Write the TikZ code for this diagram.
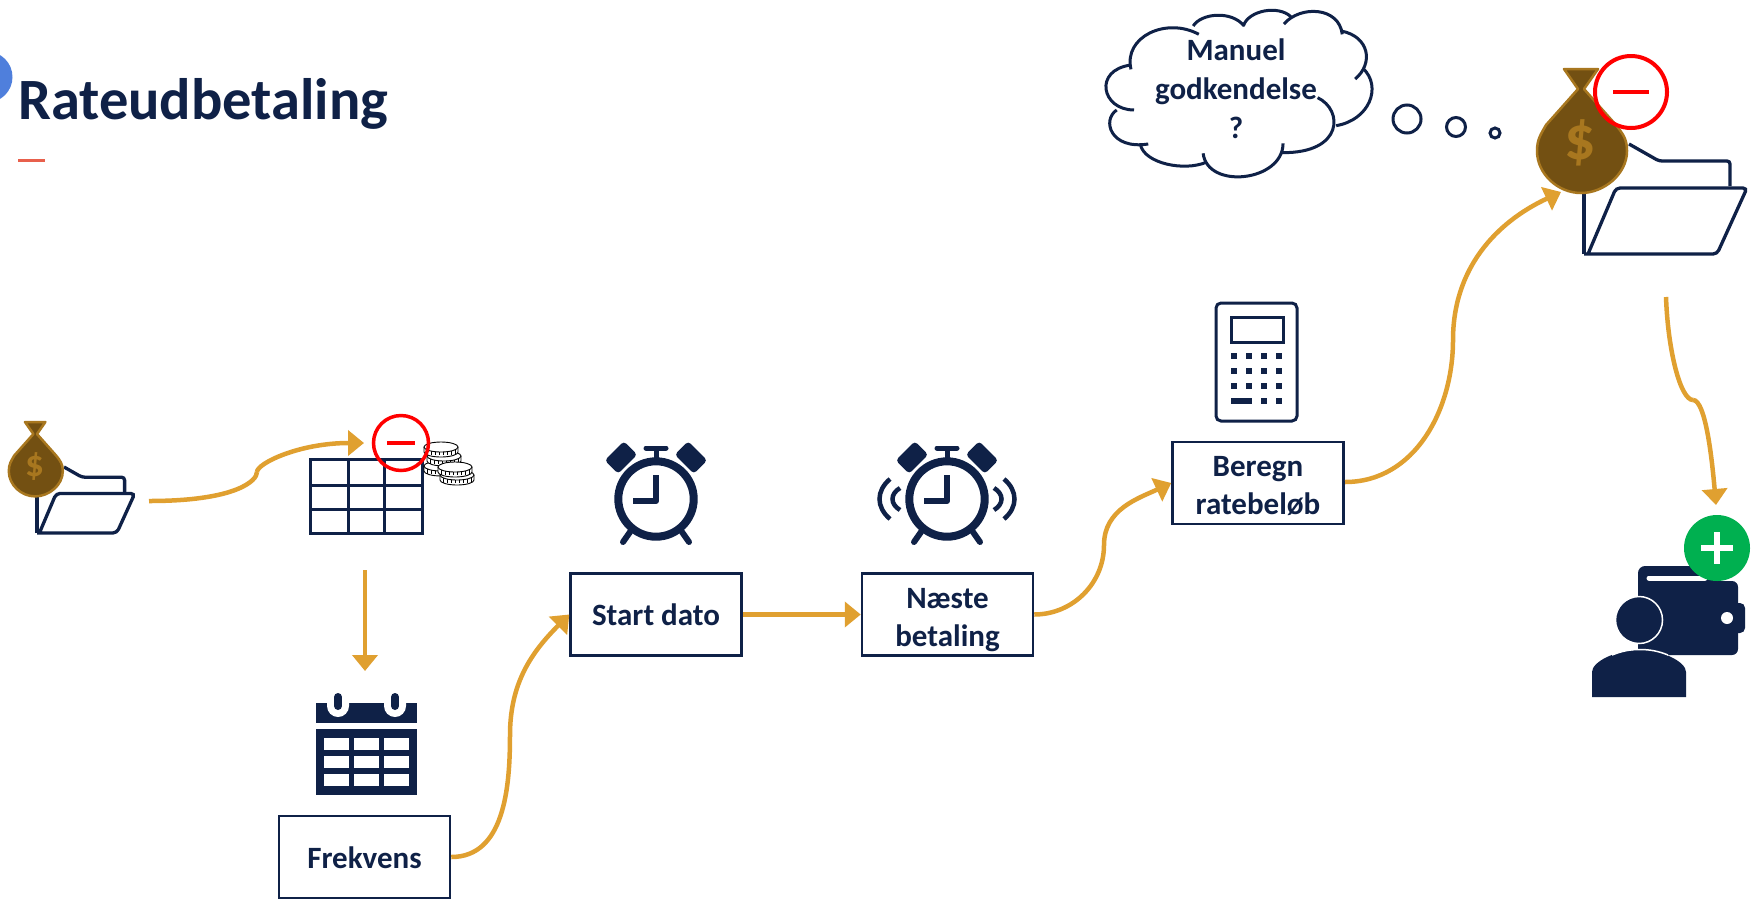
\documentclass[tikz,border=0pt]{standalone}
\usepackage{fontspec}
\setmainfont{Carlito}
\usepackage{xcolor}
\usetikzlibrary{arrows.meta,positioning,calc}
\definecolor{navy}{HTML}{0F2147}
\definecolor{flow}{HTML}{E0A030}
\definecolor{bagfill}{HTML}{735012}
\definecolor{bagline}{HTML}{A8771F}
\definecolor{minusred}{HTML}{FF0000}
\definecolor{plusgreen}{HTML}{00B050}
\tikzset{
    moneyfolder/.pic = {
        \draw[navy, line width = 3.3, line join = round] (0,0) -- (0,-60);
        \draw[navy, line width = 3.3, rounded corners = 3] (45,-110) -- (75,-93) -- (146,-93) -- (146,-68);
        \draw[navy, line width = 3.3, rounded corners = 4] (4,0) -- (32,-66) -- (163,-66) -- (133,0) -- (0,0);
        \draw[bagline, fill = bagfill, line width = 2.5, line join = round] (-20,-185) -- (14,-185) -- (0,-165) -- (32,-129) .. controls (39,-120) and (43,-115) .. (43,-103) .. controls (43,-80) and (20,-61) .. (-3,-61) .. controls (-26,-61) and (-47,-80) .. (-47,-103) .. controls (-47,-115) and (-43,-120) .. (-38,-129) -- (-6,-165) -- cycle;
        \node[transform shape, text = bagline, font = \fontsize{62}{62}\selectfont\bfseries] (-pounds) at (-4,-111) {\$};
    },
    alarmclock/.pic = {
        \draw[navy, line width = 8] (0,0) circle[radius = 37.7];
        \draw[navy, line width = 5, line cap = round] (-10,-51) -- (10,-51);
        \draw[navy, line width = 5] (0,-51) -- (0,-40);
        \draw[navy, line width = 6, line join = round] (0,-24) -- (0,2) -- (-23,2);
        \foreach \s in {-1,1} {
            \draw[navy, line width = 6, line cap = round] (\s*26,33) -- (\s*33,43);
            \begin{scope}[shift = {(\s*35,-41.5)}, rotate = -\s*45]
                \fill[navy, rounded corners = 3.5] (-13.5,-9.5) rectangle (13.5,9.5);
            \end{scope}
        }
    },
    coin/.pic = {
        \draw[black, fill = white, line width = .9] (-17,0) -- (-17,5) arc[start angle = 180, end angle = 0, x radius = 17, y radius = 5] -- (17,0);
        \foreach \i in {-14,-10,-6,-2,2,6,10,14} {\draw[black, line width = .8] (\i,3) -- (\i,8);}
        \draw[black, fill = white, line width = .9] (0,0) ellipse[x radius = 17, y radius = 5];
    },
    flowline/.style = {flow, line width = 4.5},
    flowarrow/.style = {flowline, -{Triangle[length = 16, width = 25]}},
    stepbox/.style = {draw = navy, fill = white, line width = 2.5, minimum width = 171, minimum height = 82, align = center, text = navy, font = \fontsize{31}{38}\selectfont\bfseries},
}
\begin{document}
\begin{tikzpicture}[x = 1pt, y = -1pt]
    \useasboundingbox (0,0) rectangle (1758,903);
    \fill[fill = white] (0,0) rectangle (1758,903);
    \fill[color = {rgb,255:red,79;green,127;blue,220}] (-13,77) circle[radius = 25.5];
    \node[anchor = base west, inner sep = 0, text = navy, font = \fontsize{58.5}{58.5}\selectfont\bfseries] (title) at (18,119) {Rateudbetaling};
    \fill[color = {rgb,255:red,232;green,96;blue,76}] (18,158.5) rectangle (45,161.5);
    \pic[scale = .6] at (37,533) {moneyfolder};
    \foreach \r in {485,509} {\draw[navy, line width = 3] (310,\r) -- (422,\r);}
    \foreach \c in {348,384} {\draw[navy, line width = 3] (\c,459) -- (\c,533);}
    \draw[navy, line width = 3] (310,459) rectangle (422,533);
    \pic at (441,466) {coin};
    \pic at (444,456) {coin};
    \pic at (441,447) {coin};
    \pic at (457,475) {coin};
    \pic at (455,467) {coin};
    \draw[minusred, line width = 3.5] (401,443) circle[radius = 27.5];
    \draw[minusred, line width = 3.5] (387,443) -- (415,443);
    \fill[navy] (316,703) rectangle (417,723);
    \fill[navy] (316,729) rectangle (417,795);
    \foreach \c in {338,395} {
        \fill[white] (\c-11,703) -- (\c+11,703) -- (\c+11,706) arc[start angle = 0, end angle = 180, radius = 11] -- cycle;
        \draw[navy, line width = 8, line cap = round] (\c,697) -- (\c,706);
    }
    \foreach \c in {324,354,384} {
        \foreach \r in {738,756,774} {\fill[white] (\c,\r) rectangle ++(25,12);}
    }
    \node[stepbox] (frekvens) at (364.5,857) {\rule{0pt}{23pt}Frekvens};
    \pic at (656,499) {alarmclock};
    \node[stepbox] (startdato) at (656,614.5) {\rule{0pt}{23pt}Start dato};
    \pic at (947,499) {alarmclock};
    \foreach \s in {-1,1} {
        \draw[navy, line width = 4.5] (947+\s*47,488) .. controls (947+\s*57,494) and (947+\s*57,504) .. (947+\s*47,510);
        \draw[navy, line width = 4.5] (947+\s*57,479) .. controls (947+\s*71,491) and (947+\s*71,507) .. (947+\s*57,519);
    }
    \node[stepbox] (naeste) at (947.5,614.5) {\rule{0pt}{31pt}Næste\\betaling};
    \draw[navy, line width = 3, rounded corners = 5] (1216,303) rectangle (1297,421);
    \draw[navy, line width = 3] (1231,317) rectangle (1283,342);
    \foreach \c in {1234,1249,1264,1279} {
        \foreach \r in {356,371,386} {\fill[navy] (\c-3,\r-3) rectangle ++(6,6);}
    }
    \fill[navy] (1231,398) rectangle (1252,404);
    \foreach \c in {1264,1279} {\fill[navy] (\c-3,398) rectangle ++(6,6);}
    \node[stepbox] (beregn) at (1258,483) {\rule{0pt}{27pt}Beregn\\ratebeløb};
    \begin{scope}[shift = {(1080,0)}, xscale = .432, yscale = .3333, navy, line width = 3]
        \draw (118,208) .. controls (100,110) and (200,50) .. (275,103);
        \draw (262,78) .. controls (280,40) and (350,30) .. (380,78);
        \draw (378,78) .. controls (390,30) and (460,15) .. (488,50);
        \draw (472,72) .. controls (510,15) and (600,20) .. (607,103);
        \draw (605,93) .. controls (670,110) and (680,190) .. (637,237);
        \draw (655,205) .. controls (700,260) and (670,360) .. (593,377);
        \draw (550,293) .. controls (610,330) and (610,460) .. (468,458);
        \draw (470,430) .. controls (470,545) and (295,570) .. (285,460);
        \draw (292,487) .. controls (240,515) and (150,490) .. (140,435);
        \draw (158,432) .. controls (70,450) and (50,360) .. (85,330);
        \draw (125,330) .. controls (50,330) and (30,210) .. (118,195);
    \end{scope}
    \node[align = center, text = navy, font = \fontsize{31}{39}\selectfont\bfseries] (tanke) at (1236,89) {Manuel\\godkendelse\\?};
    \draw[navy, line width = 3] (1407,119) circle[radius = 14];
    \draw[navy, line width = 3] (1456,127) circle[radius = 9.5];
    \draw[navy, line width = 3] (1495,133) circle[radius = 5];
    \pic at (1584,254) {moneyfolder};
    \draw[minusred, line width = 4] (1631,92) circle[radius = 36];
    \draw[minusred, line width = 4] (1613,92) -- (1649,92);
    \fill[navy, rounded corners = 7] (1638,566) rectangle (1715,610);
    \fill[navy, rounded corners = 5] (1720,603) rectangle (1745,633);
    \fill[navy, rounded corners = 6] (1638,581) rectangle (1738,655);
    \draw[white, line width = 5, line cap = round] (1649,578) -- (1705,578);
    \fill[white] (1727,618) circle[radius = 6];
    \fill[navy, draw = white, line width = 1.5] (1639,620) circle[radius = 23.5];
    \fill[navy] (1592,697) -- (1592,672) .. controls (1592,662) and (1615,650) .. (1639,650) .. controls (1663,650) and (1686,662) .. (1686,672) -- (1686,697) -- cycle;
    \draw[white, line width = 1.5] (1612,655) .. controls (1622,651) and (1630,649.5) .. (1639,649.5) .. controls (1650,649.5) and (1658,651) .. (1668,655);
    \fill[plusgreen] (1717,548) circle[radius = 33];
    \draw[white, line width = 6.5] (1701,548) -- (1733,548);
    \draw[white, line width = 6.5] (1717,532) -- (1717,564);
    \coordinate (mappeud) at (149,501);
    \coordinate (mappebue) at (257,472);
    \coordinate (tabelind) at (364,443);
    \coordinate (tabelud) at (365,570);
    \coordinate (kalenderind) at (365,671);
    \coordinate (frekvensbue) at (510,735);
    \coordinate (naestebue) at (1104,545);
    \coordinate (beregnud) at (1345,482);
    \coordinate (beregnbue) at (1453,340);
    \coordinate (posein) at (1561,192);
    \coordinate (poseud) at (1666,297);
    \coordinate (posebue) at (1693,400);
    \coordinate (tegnebogind) at (1716,505);
    \draw[flowline] (mappeud) to[out = 0, in = -90, out looseness = 2, in looseness = .2] (mappebue);
    \draw[flowarrow] (mappebue) to[out = 90, in = 180, out looseness = .2, in looseness = 1.5] (tabelind);
    \draw[flowarrow] (tabelud) -- (kalenderind);
    \draw[flowline] (frekvens.east) to[out = 0, in = -90] (frekvensbue);
    \draw[flowarrow] (frekvensbue) to[out = 90, in = 225] (startdato.west);
    \draw[flowarrow] (startdato.east) -- (naeste.west);
    \draw[flowline] (naeste.east) to[out = 0, in = -90] (naestebue);
    \draw[flowarrow] (naestebue) to[out = 90, in = 205] (beregn.west);
    \draw[flowline] (beregnud) to[out = 0, in = -90] (beregnbue);
    \draw[flowarrow] (beregnbue) to[out = 90, in = 205] (posein);
    \draw[flowline] (poseud) to[out = -88, in = 180, out looseness = 1.3, in looseness = .3] (posebue);
    \draw[flowarrow] (posebue) to[out = 0, in = 95, out looseness = .3, in looseness = 1.1] (tegnebogind);
\end{tikzpicture}
\end{document}
